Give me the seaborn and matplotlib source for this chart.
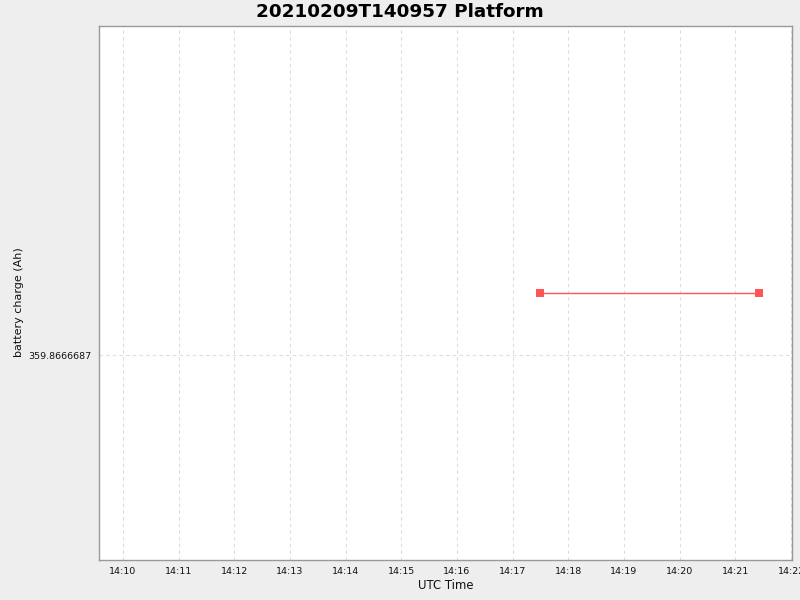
import pandas as pd
import matplotlib
matplotlib.use("Agg")
import matplotlib.pyplot as plt
import matplotlib.dates as mdates
import matplotlib.ticker as mticker
import seaborn as sns

# data
times = ["2021-02-09 14:17:29", "2021-02-09 14:21:25"]
charge = [359.86666875, 359.86666875]
y_ticks = [359.8666687]

df = pd.DataFrame({"time": pd.to_datetime(times), "charge": charge})

sns.set_style("white")
plt.rcParams['font.family'] = ['DejaVu Sans']

fig = plt.figure(figsize=(8, 6), dpi=100, facecolor="#eeeeee")
ax = fig.add_axes([98.5 / 800, 1 - 560 / 600, (792 - 98.5) / 800, (560 - 26) / 600])
ax.set_facecolor("white")

sns.lineplot(data=df, x="time", y="charge", ax=ax, color="#ff5555",
             linewidth=1.0, marker="s", markersize=5.5, markeredgewidth=0)

# x range: 14:09:34 -> 14:22:01
ax.set_xlim(pd.Timestamp("2021-02-09 14:09:33.7"), pd.Timestamp("2021-02-09 14:22:01"))
ax.xaxis.set_major_locator(mdates.MinuteLocator())
ax.xaxis.set_major_formatter(mdates.DateFormatter("%H:%M"))

half = 2.153e-7
ax.set_ylim(charge[0] - half, charge[0] + half)
ax.yaxis.set_major_locator(mticker.FixedLocator(y_ticks))
ax.yaxis.set_major_formatter(mticker.FormatStrFormatter("%.7f"))

ax.grid(True, color="#dddddd", linestyle=(0, (3, 3)), linewidth=0.8)
for s in ax.spines.values():
    s.set_color("#999999")
    s.set_linewidth(1)
ax.tick_params(axis="both", which="major", length=3, width=0.8, color="#999999",
               labelsize=6.8, labelcolor="#111111", direction="out", pad=2)

ax.set_xlabel("UTC Time", fontsize=8.4, color="#111111", labelpad=2)
ax.set_ylabel("battery charge (Ah)", fontsize=8, color="#111111")
ax.yaxis.set_label_coords(-0.108, 0.483)
fig.suptitle("20210209T140957 Platform", fontsize=13.2, fontweight="bold",
             color="black", x=0.5, y=0.995, va="top")

fig.savefig("out.png", dpi=100, facecolor=fig.get_facecolor())
